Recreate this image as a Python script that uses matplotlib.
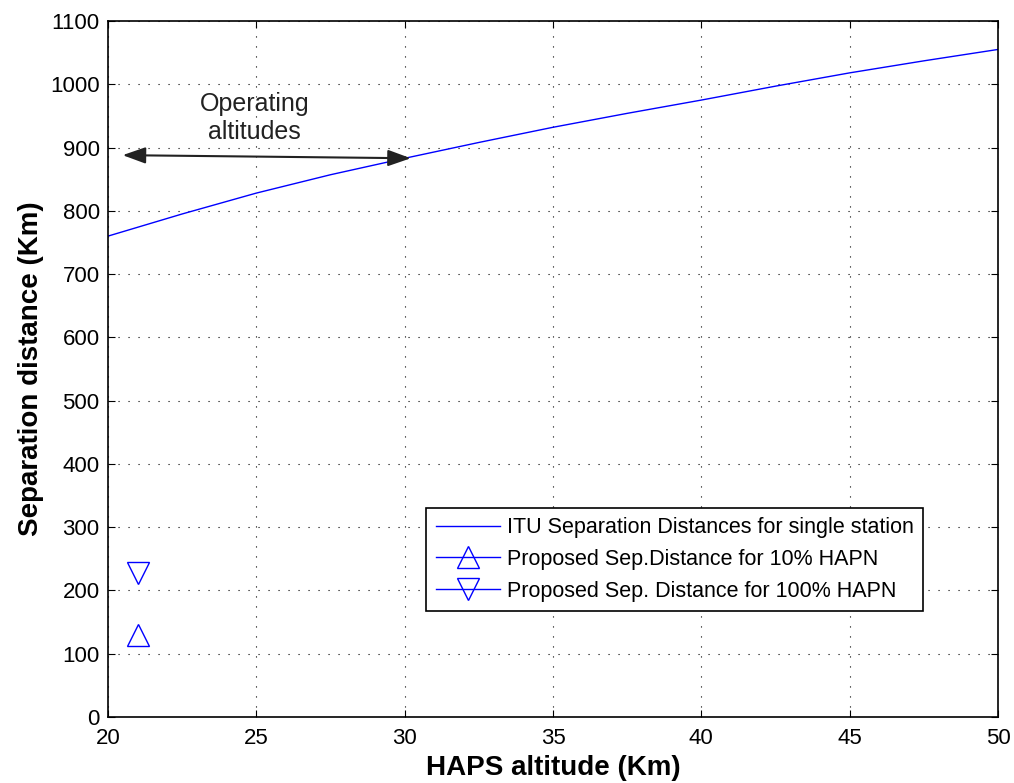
import numpy as np
import matplotlib
matplotlib.use('Agg')
from matplotlib import pyplot as plt

plt.rcParams['font.family'] = ['Liberation Sans', 'DejaVu Sans']

# ITU separation distance curve
alt = [20, 22.5, 25, 27.5, 30, 32.5, 35, 37.5, 40, 42.5, 45, 47.5, 50]
itu_dist = [760, 795, 828, 857, 883, 908, 932, 954, 975, 997, 1018, 1037, 1055]

# proposed points
prop_alt = [21]
prop_10 = [130]
prop_100 = [228]

fig = plt.figure(figsize=(10.14, 7.83), dpi=100)
ax = fig.add_axes([0.1065, 0.0843, 0.8777, 0.8889])

ax.plot(alt, itu_dist, color='blue', lw=1, label='ITU Separation Distances for single station')
ax.plot(prop_alt, prop_10, '-^', color='blue', lw=1, mfc='none', ms=16, mew=1,
        label='Proposed Sep.Distance for 10% HAPN')
ax.plot(prop_alt, prop_100, '-v', color='blue', lw=1, mfc='none', ms=16, mew=1,
        label='Proposed Sep. Distance for 100% HAPN')

ax.annotate('', xy=(20.4, 888), xytext=(30.3, 883),
            arrowprops=dict(arrowstyle='<|-|>,head_length=0.7,head_width=0.25',
                            color='#222222', lw=1.5, mutation_scale=20))
ax.text(24.95, 947, 'Operating\naltitudes', ha='center', va='center',
        fontsize=18, color='#222222', linespacing=1.2)

ax.set_xlim(20, 50)
ax.set_ylim(0, 1100)
ax.set_xticks(np.arange(20, 51, 5))
ax.set_yticks(np.arange(0, 1101, 100))
ax.tick_params(direction='in', labelsize=16, length=5, top=True, right=True)
ax.tick_params(axis='x', pad=8)
ax.tick_params(axis='y', pad=6)
ax.grid(True, linestyle=(0, (1, 8)), color='black', lw=0.8)
for s in ax.spines.values():
    s.set_linewidth(1.2)

ax.set_xlabel('HAPS altitude (Km)', fontsize=20, fontweight='bold', labelpad=4)
ax.set_ylabel('Separation distance (Km)', fontsize=20, fontweight='bold', labelpad=4)

leg = ax.legend(loc='lower right', bbox_to_anchor=(0.916, 0.152), fontsize=15.5,
                fancybox=False, edgecolor='black', framealpha=1, markerscale=1.0,
                handlelength=3.0, borderpad=0.45, labelspacing=0.49, handletextpad=0.3,
                borderaxespad=0)
leg.get_frame().set_linewidth(1.2)

plt.savefig('out.png', dpi=100)
